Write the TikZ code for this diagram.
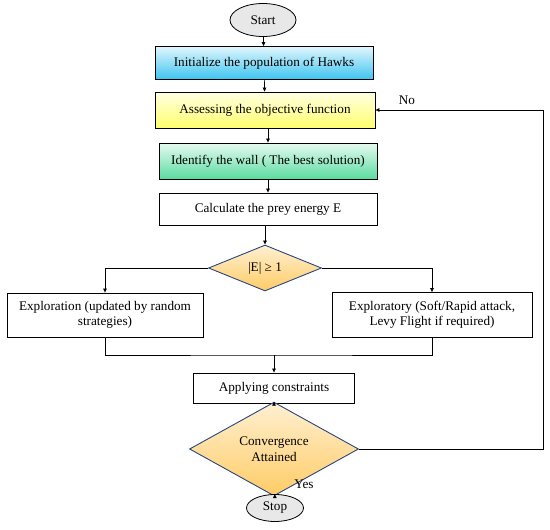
\documentclass[tikz,border=0pt]{standalone}
\usepackage{fontspec}
\setmainfont{Liberation Serif}
\usepackage{tikz}
\usetikzlibrary{
	shapes.geometric,
	positioning,
	arrows.meta
}

\definecolor{hawkblue}{RGB}{60,196,240}
\definecolor{hawkyellow}{RGB}{255,255,110}
\definecolor{hawkgreen}{RGB}{90,220,160}
\definecolor{hawkgold}{RGB}{255,204,102}
\definecolor{hawkedge}{RGB}{40,70,130}

\tikzset{
	procbox/.style={draw=black,line width=0.8pt,rectangle,minimum width=218pt,
		minimum height=33pt,align=center,inner sep=2pt},
	decision/.style={draw=hawkedge,line width=0.9pt,diamond,inner sep=0pt,
		top color=hawkgold!30,bottom color=hawkgold,align=center},
	terminal/.style={draw=black,line width=0.8pt,ellipse,fill=gray!18,inner sep=0pt},
	flow/.style={line width=0.7pt,-{Triangle[length=4pt,width=3.5pt]}},
	plain/.style={line width=0.7pt}
}

\begin{document}
\begin{tikzpicture}[x=1pt,y=-1pt,font=\fontsize{13.2}{15.5}\selectfont]
		\useasboundingbox (0,0) rectangle (550,530);

		\node[terminal,minimum width=66pt,minimum height=33pt] (start) at (263,20) {Start};
		\node[procbox,top color=hawkblue!15,bottom color=hawkblue] (init) at (264,63) {Initialize the population of Hawks};
		\node[procbox,minimum width=220pt,minimum height=36pt,top color=hawkyellow!20,bottom color=hawkyellow] (assess) at (265,110) {Assessing the objective function};
		\node[procbox,minimum height=36pt,top color=hawkgreen!15,bottom color=hawkgreen] (wall) at (268,161) {Identify the wall ( The best solution)};
		\node[procbox,minimum height=32pt] (energy) at (268,209) {Calculate the prey energy E};
		\node[decision,minimum width=113pt,minimum height=46pt] (check) at (265,268) {|E| ≥ 1};
		\node[procbox,minimum width=196pt,minimum height=44pt] (explore) at (105,315) {Exploration (updated by random\\strategies)};
		\node[procbox,minimum width=200pt,minimum height=45pt] (exploit) at (432,315) {Exploratory (Soft/Rapid attack,\\Levy Flight if required)};
		\node[procbox,minimum width=161pt,minimum height=30pt] (constr) at (274,388) {Applying constraints};
		\node[decision,minimum width=169pt,minimum height=62pt] (conv) at (274,449) {Convergence\\Attained};
		\node[terminal,minimum width=57pt,minimum height=27pt] (stop) at (275,508) {Stop};

		\node (yes) at (304,484) {Yes};
		\node (no) at (407,100) {No};

		\coordinate (merge) at (274,355);
		\coordinate (loop) at (543,449);

		\draw[flow] (start) -- (init);
		\draw[flow] (init) -- (assess);
		\draw[flow] (assess.south -| wall) -- (wall);
		\draw[flow] (wall) -- (energy);
		\draw[flow] (energy.south -| check) -- (check);
		\draw[flow] (check.west) -| (explore.north);
		\draw[flow] (check.east) -| (exploit.north);
		\draw[plain] (explore.south) |- (merge) -| (exploit.south);
		\draw[flow] (merge) -- (constr);
		\draw[flow] (constr) -- (conv);
		\draw[flow] (conv) -- (stop);
		\draw[flow] (conv.east) -- (loop) |- (assess.east);
	\end{tikzpicture}
\end{document}
